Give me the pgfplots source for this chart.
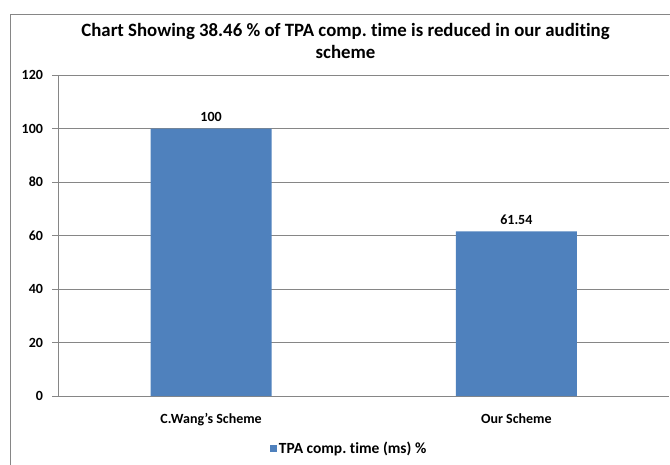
\documentclass[border=0pt]{standalone}
\usepackage{pgfplots}
\pgfplotsset{compat=1.18}
\usepackage{fontspec}
\setmainfont{Carlito}[Ligatures={NoCommon}]
\definecolor{barblue}{HTML}{4F81BD}
\definecolor{axgray}{HTML}{868686}
\frenchspacing

\begin{document}
\begin{tikzpicture}[x=1pt,y=1pt]
\useasboundingbox (-58.5,-68) rectangle (611.5,396);
\draw[axgray,line width=0.8pt] (-48.5,-70) -- (-48.5,382) -- (615,382);
\node[font=\fontsize{18.8}{22}\selectfont\bfseries,align=center] at (287,355) {Chart Showing 38.46 \% of TPA comp. time is reduced in our auditing\\scheme};
\begin{axis}[
  at={(0,0)}, anchor=south west,
  scale only axis,
  width=610.5pt, height=321pt,
  xmin=-0.5, xmax=1.5,
  ymin=0, ymax=120,
  ytick={0,20,...,120},
  xtick={0,1},
  xticklabels={C.Wang's Scheme, Our Scheme},
  axis lines*=left,
  axis line style={axgray},
  tick align=outside,
  major tick length=6pt,
  major x tick style={draw=none},
  extra x ticks={-0.5,0.5,1.5},
  extra x tick labels={},
  extra x tick style={major tick length=5pt, tick style={axgray}},
  ytick style={axgray},
  ymajorgrids,
  grid style={axgray, line width=0.6pt},
  /pgf/number format/assume math mode=true,
  ticklabel style={font=\fontsize{14}{16}\selectfont\bfseries},
  xticklabel style={yshift=-8pt},
  yticklabel style={xshift=-6pt},
  ybar, bar width=121pt,
  nodes near coords,
  nodes near coords style={font=\fontsize{14}{16}\selectfont\bfseries, yshift=3pt,
    /pgf/number format/fixed, /pgf/number format/precision=2},
  legend style={at={(0.476,-0.165)}, anchor=center, draw=none,
    font=\fontsize{15.5}{17}\selectfont\bfseries},
  legend image code/.code={\fill[barblue] (0pt,-3.5pt) rectangle (7pt,3.5pt);},
]
\addplot[fill=barblue, draw=none] coordinates {(0,100) (1,61.54)};
\legend{TPA comp. time (ms) \%}
\end{axis}
\end{tikzpicture}
\end{document}
